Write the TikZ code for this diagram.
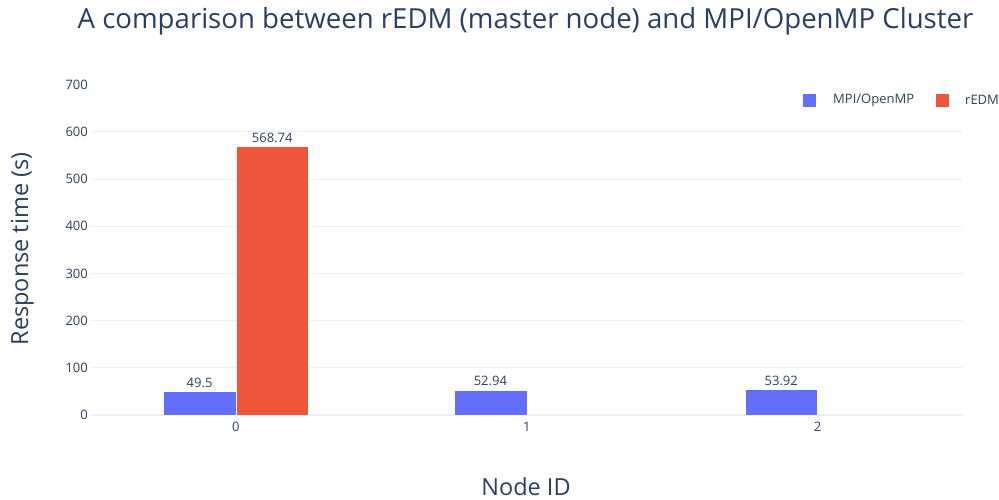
\documentclass[tikz,border=0pt]{standalone}
\usepackage{fontspec}
\setmainfont{Open Sans}
\definecolor{ink}{HTML}{2A3F5F}
\definecolor{grid}{HTML}{EBF0F8}
\definecolor{mpi}{HTML}{636EFA}
\definecolor{redm}{HTML}{EF553B}
\begin{document}
\begin{tikzpicture}[x=1pt,y=-1pt,
  tick/.style={font=\fontsize{13}{13}\selectfont, text=ink, inner sep=0pt},
  vallabel/.style={font=\fontsize{13}{13}\selectfont, text=ink, inner sep=0pt, anchor=south},
  bar/.style={draw=white, line width=0.5pt},
  gridline/.style={draw=grid, line width=1pt},
  axtitle/.style={font=\fontsize{23.5}{23.5}\selectfont, text=ink, inner sep=0pt}]
\useasboundingbox (0,0) rectangle (999,499);
% plot frame: x from 90.5 to 963, zero at y=415, 0.4719 px per second
\def\yz{415}
\def\ys{0.4719}
\def\cw{290.83}
\def\xl{90.5}
% grid
\foreach \v in {100,200,...,600}{
  \draw[gridline] (\xl,{\yz-\v*\ys}) -- (963,{\yz-\v*\ys});
}
\draw[draw=grid, line width=2pt] (\xl,\yz) -- (963,\yz);
% y tick labels
\foreach \v in {0,100,...,700}{
  \node[tick, anchor=east] (yt\v) at (88,{\yz-\v*\ys}) {\v};
}
% MPI/OpenMP bars with value labels and category ticks
\foreach \c/\val/\name in {0/49.5/m0, 1/52.94/m1, 2/53.92/m2}{
  \pgfmathsetmacro{\xc}{\xl+\cw*(\c+0.5)}
  \fill[mpi] ({\xc-\cw/4},\yz) rectangle (\xc,{\yz-\val*\ys});
  \draw[bar] ({\xc-\cw/4},\yz) rectangle (\xc,{\yz-\val*\ys});
  \node[vallabel] (\name) at ({\xc-\cw/8},{\yz-\val*\ys-4}) {\val};
  \node[tick, anchor=north] (xt\c) at (\xc,{\yz+7}) {\c};
}
% rEDM bar
\pgfmathsetmacro{\xc}{\xl+\cw*0.5}
\fill[redm] (\xc,\yz) rectangle ({\xc+\cw/4},{\yz-568.74*\ys});
\draw[bar] (\xc,\yz) rectangle ({\xc+\cw/4},{\yz-568.74*\ys});
\node[vallabel] (r0) at ({\xc+\cw/8},{\yz-568.74*\ys-4}) {568.74};
% titles
\node[font=\fontsize{27.6}{27.6}\selectfont, text=ink, inner sep=0pt, anchor=base] (title) at (525.5,28) {A comparison between rEDM (master node) and MPI/OpenMP Cluster};
\node[axtitle, rotate=90, anchor=base] (ytitle) at (28,249) {Response time (s)};
\node[axtitle, anchor=base] (xtitle) at (526,495) {Node ID};
% legend
\fill[mpi] (803,93.5) rectangle (816,106.5);
\node[tick, anchor=west] (lgm) at (833,100) {MPI/OpenMP};
\fill[redm] (936,93.5) rectangle (949,106.5);
\node[tick, anchor=west] (lgr) at (965,100) {rEDM};
\end{tikzpicture}
\end{document}
